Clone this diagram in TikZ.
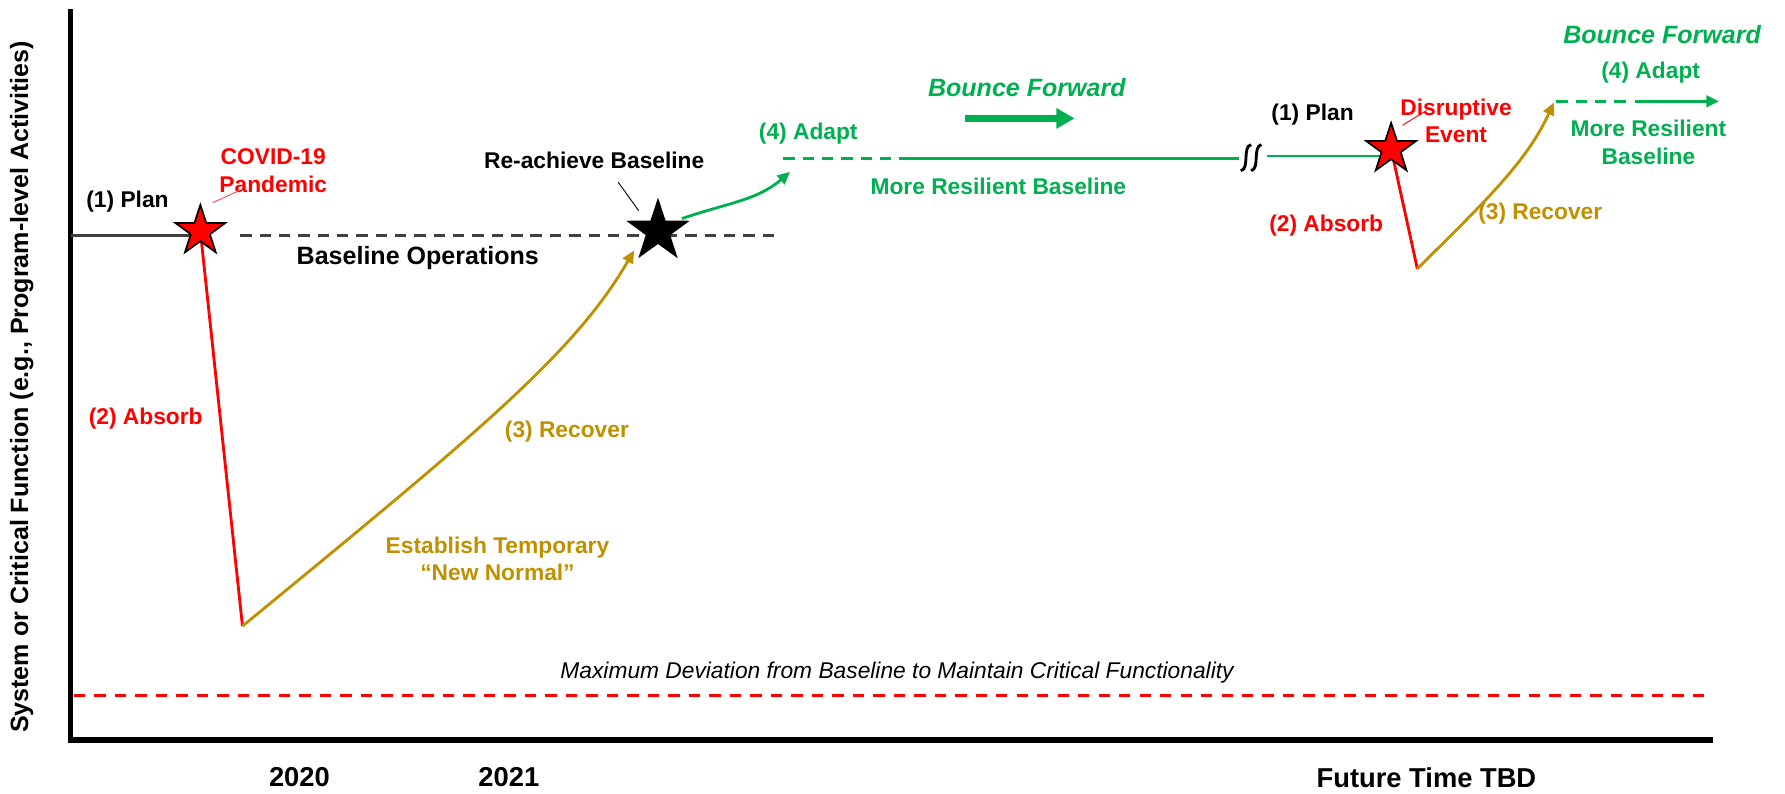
\documentclass[tikz,border=0pt]{standalone}
\usepackage{fontspec}
\setmainfont{Liberation Sans}
\usetikzlibrary{shapes.geometric,arrows.meta}
\definecolor{rred}{HTML}{FF0000}
\definecolor{rgreen}{HTML}{00B050}
\definecolor{rgold}{HTML}{BF9000}
\definecolor{rgray}{HTML}{404040}

\begin{document}
\begin{tikzpicture}[x=1pt,y=-1pt,
	lbl/.style={font=\fontsize{20}{24}\selectfont\bfseries,align=center,inner sep=0pt},
	yearlbl/.style={font=\fontsize{24}{28}\selectfont\bfseries,inner sep=0pt},
	bouncelbl/.style={rgreen,inner sep=0pt,font=\fontsize{22}{26}\selectfont\bfseries\itshape},
	starnode/.style={star,star points=5,star point ratio=2.6,draw=black,line width=1.5pt,inner sep=0pt},
	thick line/.style={line width=2.5pt},
	dashline/.style={line width=2.5pt,dash pattern=on 10pt off 7pt},
	tip/.style={-{Triangle[length=11pt,width=10pt]}},
	leader/.style={line width=0.8pt}]
	
	\useasboundingbox (0,0) rectangle (1568,697);
	
	\coordinate(top) at (62,8);
	\coordinate(origin) at (62,650);
	\coordinate(xend) at (1505,650);
	\draw[line width=5pt] (top) -- (origin) -- (xend);
	
	\node(ylabel) at (19,340)[rotate=90,font=\fontsize{22}{26}\selectfont\bfseries,inner sep=0pt]{System or Critical Function (e.g., Program-level Activities)};
	\node(y2020) at (263,683)[yearlbl]{2020};
	\node(y2021) at (447,683)[yearlbl]{2021};
	\node(future) at (1253,683)[yearlbl]{Future Time TBD};
	
	\coordinate(m0) at (65,611);
	\coordinate(m1) at (1497,611);
	\draw[rred,line width=2.5pt,dash pattern=on 10pt off 8pt] (m0) -- (m1);
	\node(maxdev) at (788,591)[font=\fontsize{20}{24}\selectfont\itshape,inner sep=0pt]{Maximum Deviation from Baseline to Maintain Critical Functionality};
	
	\coordinate(c1) at (176,203);
	\coordinate(c2) at (578,203);
	\coordinate(c3) at (1222,131);
	\coordinate(p0) at (62,207);
	\coordinate(b0) at (211,207);
	\coordinate(b1) at (686,207);
	\coordinate(low1) at (213,550);
	\coordinate(rec1) at (557,220);
	\coordinate(g0) at (599,192);
	\coordinate(g1) at (694,151);
	\coordinate(d0) at (688,139);
	\coordinate(d1) at (800,139);
	\coordinate(d2) at (1088,139);
	\coordinate(d3) at (1113,137);
	\coordinate(low2) at (1245,236);
	\coordinate(rec2) at (1365,90);
	\coordinate(e0) at (1367,89);
	\coordinate(e1) at (1432,89);
	\coordinate(e2) at (1436,89);
	\coordinate(e3) at (1510,89);
	\coordinate(f0) at (848,104);
	\coordinate(f1) at (944,104);
	
	\draw[rgray,thick line] (p0) -- (p0 -| c1);
	\draw[rgray,dashline] (b0) -- (b1);
	\draw[rred,thick line] (c1) -- (low1);
	\draw[rgold,thick line,tip] (low1) .. controls (420,380) and (505,310) .. (rec1);
	\draw[rgreen,thick line,tip] (g0) .. controls (640,178) and (665,176) .. (g1);
	\draw[rgreen,dashline] (d0) -- (d1);
	\draw[rgreen,thick line] (d1) -- (d2);
	\draw[rgreen,thick line] (d3) -- (d3 -| c3);
	\draw[line width=2.5pt] (1090,150) .. controls (1098,148) and (1091,129) .. (1099,127);
	\draw[line width=2.5pt] (1099,150) .. controls (1107,148) and (1100,129) .. (1108,127);
	\draw[rred,thick line] (c3) -- (low2);
	\draw[rgold,thick line,tip] (low2) .. controls (1310,172) and (1342,140) .. (rec2);
	\draw[rgreen,dashline] (e0) -- (e1);
	\draw[rgreen,thick line,tip] (e2) -- (e3);
	\draw[rgreen,line width=6pt,-{Triangle[length=16pt,width=17pt]}] (f0) -- (f1);
	
	\node(s1) at (c1)[starnode,fill=rred,minimum size=46pt]{};
	\node(s2) at (c2)[starnode,fill=black,minimum size=54pt]{};
	\node(s3) at (c3)[starnode,fill=rred,minimum size=46pt]{};
	
	\node(plan1) at (112,177)[lbl]{(1) Plan};
	\node(covid) at (240,150)[lbl,rred]{COVID-19\\Pandemic};
	\node(baseops) at (367,227)[lbl,font=\fontsize{22}{26}\selectfont\bfseries]{Baseline Operations};
	\node(absorb1) at (128,368)[lbl,rred]{(2) Absorb};
	\node(recover1) at (498,379)[lbl,rgold]{(3) Recover};
	\node(temp) at (437,491)[lbl,rgold]{Establish Temporary\\``New Normal''};
	\node(reach) at (522,141)[lbl]{Re-achieve Baseline};
	\node(adapt1) at (710,117)[lbl,rgreen]{(4) Adapt};
	\node(bounce1) at (902,77)[bouncelbl]{Bounce Forward};
	\node(resil1) at (877,164)[lbl,rgreen]{More Resilient Baseline};
	\node(plan2) at (1153,101)[lbl]{(1) Plan};
	\node(disrupt) at (1279,106)[lbl,rred]{Disruptive\\Event};
	\node(absorb2) at (1165,198)[lbl,rred]{(2) Absorb};
	\node(recover2) at (1353,188)[lbl,rgold]{(3) Recover};
	\node(adapt2) at (1450,64)[lbl,rgreen]{(4) Adapt};
	\node(resil2) at (1448,125)[lbl,rgreen]{More Resilient\\Baseline};
	\node(bounce2) at (1460,30)[bouncelbl]{Bounce Forward};
	
	\coordinate(l1a) at (187,178);
	\coordinate(l1b) at (211,167);
	\coordinate(l2a) at (543,160);
	\coordinate(l2b) at (561,185);
	\coordinate(l3a) at (1232,110);
	\coordinate(l3b) at (1253,97);
	\draw[rred!70,leader] (l1a) -- (l1b);
	\draw[leader] (l2a) -- (l2b);
	\draw[rred,leader] (l3a) -- (l3b);
	
\end{tikzpicture}
\end{document}
